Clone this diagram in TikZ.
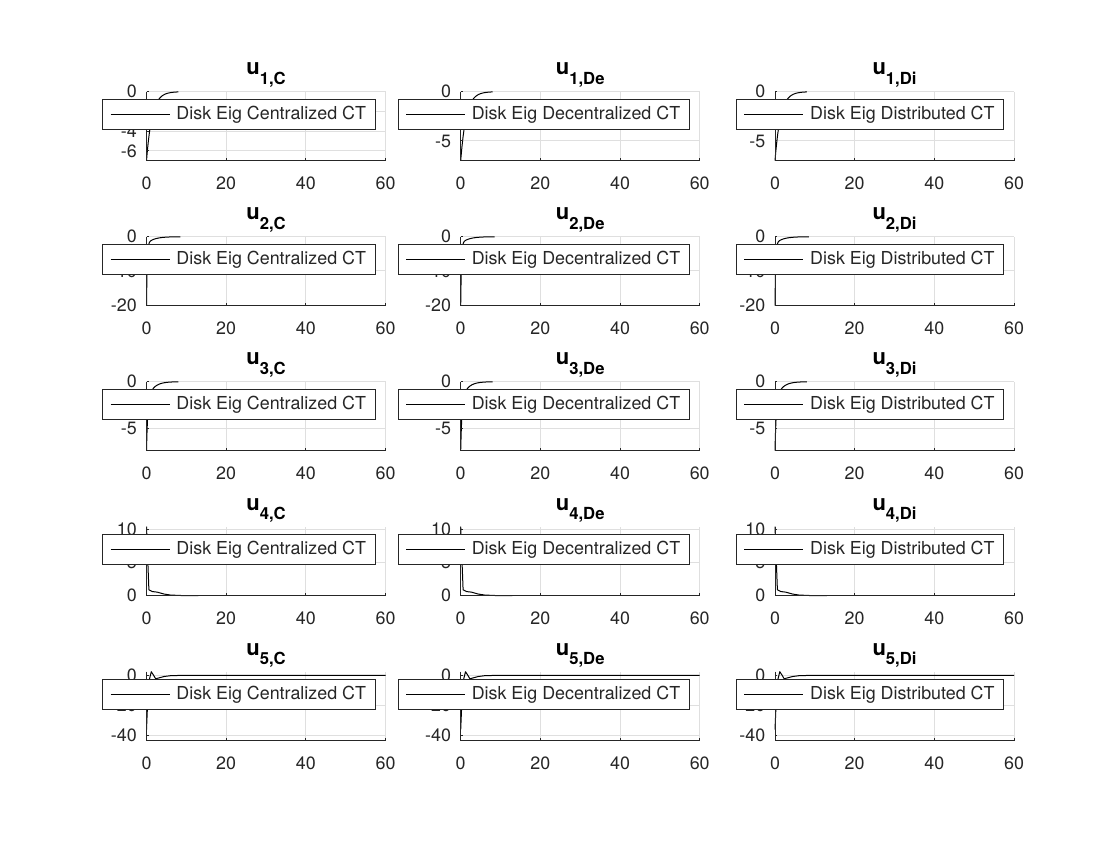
\documentclass[tikz,border=0pt]{standalone}
\usepackage{fontspec}
\newfontfamily\helv{TeX Gyre Heros}
\newcommand\tickfont{\helv\fontsize{13.4}{16}\selectfont}
\newcommand\ttlfont{\helv\bfseries\fontsize{16.5}{20}\selectfont}
\newcommand\subsfont{\helv\bfseries\fontsize{12.5}{15}\selectfont}
\definecolor{axgray}{HTML}{262626}
\definecolor{gridgray}{HTML}{DFDFDF}
\tikzset{
  gridline/.style={draw=gridgray, line width=0.75pt},
  axisline/.style={draw=axgray, line width=0.75pt},
  curve/.style={draw=black, line width=0.75pt, line join=round},
  ticklabel/.style={font=\tickfont, text=axgray, inner sep=0pt},
  legbox/.style={draw=axgray, fill=white, line width=0.75pt, font=\tickfont, text=axgray,
    minimum height=22.5pt, inner ysep=0pt, inner xsep=6.75pt, anchor=north east},
  plottitle/.style={font=\ttlfont, text=black, inner sep=0pt, anchor=base}
}
\begin{document}
\begin{tikzpicture}[x=0.75pt,y=0.75pt]
  \fill[white] (0,0) rectangle (1120,840);
  \useasboundingbox (0,0) rectangle (1120,840);
  \foreach \row/\lo/\hi/\ya/\yb/\pth in {
    1/-7/0/{0,-2,-4,-6}/{0,-5}/{plot[domain=0:8,samples=100] (\x,{-7*exp(-\x/1.4)})},
    2/-20.2/0/{0,-10,-20}/{0,-10,-20}/{plot[domain=0:8.5,samples=150] (\x,{-18.1*exp(-\x/0.18)-2.1*exp(-\x/1.8)})},
    3/-7.4/0/{0,-5}/{0,-5}/{plot[domain=0:8,samples=120] (\x,{-5.2*exp(-\x/0.3)-2.2*exp(-\x/1.5)})},
    4/0/10.45/{0,5,10}/{0,5,10}/{(0,10.45) -- (0.6,0.9) -- (1.45,0.63) -- (2.7,0.54) -- (4.4,0.25) -- (6,0.1) -- (9,0.02) -- (13,0)},
    5/-43.3/2.5/{0,-20,-40}/{0,-20,-40}/{(0,-36) -- (0.25,-20) -- (0.6,-4) -- (1.2,2.5) -- (1.7,0.5) -- (2.3,-2.2) -- (3,-1.7) -- (4.4,-0.7) -- (6,-0.15) -- (8,0) -- (60,0)}}{
    \pgfmathsetmacro\axtop{748.3-145*(\row-1)}
    \pgfmathsetmacro\axbot{\axtop-69}
    \pgfmathsetmacro\sy{51.75/(\hi-\lo)}
    \foreach \col/\lft/\subs/\leg in {1/146.5/C/Centralized,2/460.7/De/Decentralized,3/775/Di/Distributed}{
      \ifnum\col=1 \let\yt\ya \else \let\yt\yb \fi
      \begin{scope}[shift={(\lft,\axbot)},x=2.9875pt,y=\sy pt,shift={(0,-\lo)}]
        \foreach \t in {20,40,60} \draw[gridline] (\t,\lo) -- (\t,\hi);
        \foreach \v in \yt \draw[gridline] (0,\v) -- (60,\v);
        \draw[curve] \pth;
        \draw[axisline] (0,\hi) -- (0,\lo) -- (60,\lo);
        \foreach \t in {0,20,40,60}{
          \draw[axisline] (\t,\lo) -- +(0,1.8pt);
          \node[ticklabel, anchor=north, yshift=-12pt] (xt-\row-\col-\t) at (\t,\lo) {\t};
        }
        \foreach \v in \yt{
          \draw[axisline] (0,\v) -- +(1.8pt,0);
          \node[ticklabel, anchor=east, xshift=-7.1pt] (yt-\row-\col-\v) at (0,\v) {\v};
        }
      \end{scope}
      \node[legbox] (leg-\row-\col) at (\lft+229,\axtop-7.6) {\hspace*{48.5pt}Disk Eig \leg{} CT};
      \draw[curve] ([xshift=6.3pt]leg-\row-\col.west) -- +(44.25pt,0);
      \node[plottitle] (ttl-\row-\col) at (\lft+119.5,\axtop+16.7) {u\raisebox{-7pt}{\subsfont\row,\subs}};
    }
  }
\end{tikzpicture}
\end{document}
